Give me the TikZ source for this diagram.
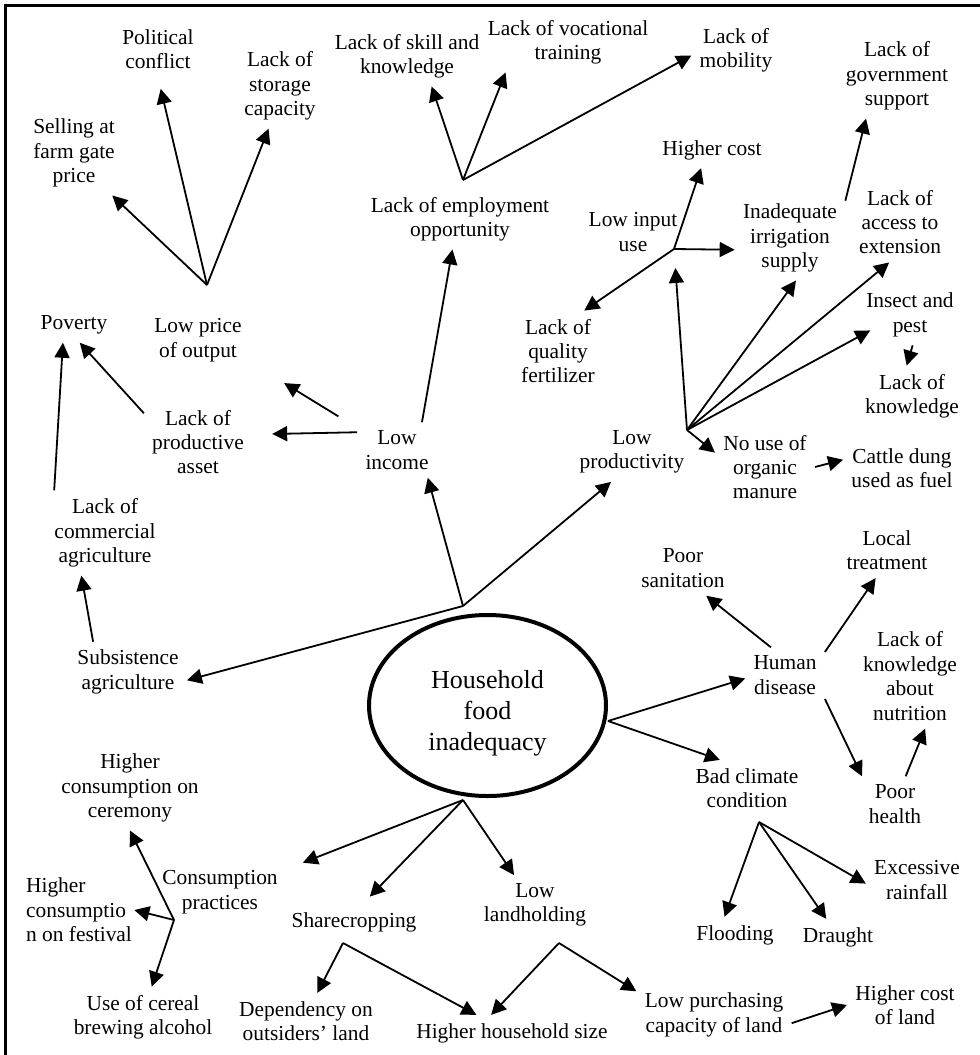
\documentclass[tikz,border=0pt]{standalone}
\usepackage{fontspec}
\setmainfont{Liberation Serif}
\usetikzlibrary{arrows.meta,shapes.geometric}

\begin{document}
\begin{tikzpicture}[
  x=0.5pt, y=-0.5pt,
  >={Triangle[length=7.5pt,width=7.5pt]},
  txt/.style={align=center, inner sep=4pt, font=\fontsize{10.7}{12.2}\selectfont},
  root/.style={ellipse, draw, line width=2pt, minimum width=118.5pt, minimum height=90.5pt, inner sep=0pt},
  link/.style={->, line width=0.9pt}
]
\useasboundingbox (0,0) rectangle (980,1055);
\draw[line width=1.3pt] (5.5,1055) |- (980,5.5);

\node[root, label={[txt, yshift=-4pt, font=\fontsize{13}{15.5}\selectfont]center:Household\\food\\inadequacy}] (hfi) at (487.5,705.5) {};

\node[txt] (pol) at (158,49) {Political\\conflict};
\node[txt] (stor) at (280,86) {Lack of\\storage\\capacity};
\node[txt] (sell) at (74,153) {Selling at\\farm gate\\price};
\node[txt] (pov) at (74,325) {Poverty};
\node[txt] (lpo) at (198,340) {Low price\\of output};
\node[txt] (skill) at (407,56) {Lack of skill and\\knowledge};
\node[txt] (voc) at (568,42) {Lack of vocational\\training};
\node[txt] (mob) at (736,50) {Lack of\\mobility};
\node[txt] (emp) at (460,219) {Lack of employment\\opportunity};
\node[txt] (hcost) at (712,150) {Higher cost};
\node[txt] (gov) at (897,76) {Lack of\\government\\support};
\node[txt] (input) at (633,232) {Low input\\use};
\node[txt] (irr) at (790,238) {Inadequate\\irrigation\\supply};
\node[txt] (ext) at (900,222) {Lack of\\access to\\extension};
\node[txt] (fert) at (558,351) {Lack of\\quality\\fertilizer};
\node[txt] (insect) at (910,315) {Insect and\\pest};
\node[txt] (lknow) at (912,396) {Lack of\\knowledge};
\node[txt] (asset) at (198,442) {Lack of\\productive\\asset};
\node[txt] (inc) at (397,450) {Low\\income};
\node[txt] (prod) at (632,452) {Low\\productivity};
\node[txt] (org) at (765,467) {No use of\\organic\\manure};
\node[txt] (dung) at (902,468) {Cattle dung\\used as fuel};
\node[txt] (comm) at (105,533) {Lack of\\commercial\\agriculture};
\node[txt] (san) at (683,568) {Poor\\sanitation};
\node[txt] (local) at (887,550) {Local\\treatment};
\node[txt] (subs) at (128,672) {Subsistence\\agriculture};
\node[txt] (hum) at (785,675) {Human\\disease};
\node[txt] (nutr) at (910,676) {Lack of\\knowledge\\about\\nutrition};
\node[txt] (clim) at (747,788) {Bad climate\\condition};
\node[txt] (phealth) at (895,804) {Poor\\health};
\node[txt] (cer) at (130,788) {Higher\\consumption on\\ceremony};
\node[txt] (cons) at (220,892) {Consumption\\practices};
\node[txt, align=left, inner sep=1pt] (fest) at (79,910) {Higher\\consumptio\\n on festival};
\node[txt] (share) at (354,922) {Sharecropping};
\node[txt] (land) at (535,905) {Low\\landholding};
\node[txt] (flood) at (735,935) {Flooding};
\node[txt] (draught) at (838,937) {Draught};
\node[txt] (rain) at (917,880) {Excessive\\rainfall};
\node[txt] (cereal) at (143,1017) {Use of cereal\\brewing alcohol};
\node[txt] (dep) at (306,1021) {Dependency on\\outsiders' land};
\node[txt] (hsize) at (512,1033) {Higher household size};
\node[txt] (purch) at (714,1015) {Low purchasing\\capacity of land};
\node[txt] (hcland) at (905,1005) {Higher cost\\of land};

\coordinate (jlp) at (207,285);
\coordinate (jemp) at (463,180);
\coordinate (jin) at (674,249);
\coordinate (jprod) at (687,430);
\coordinate (jroot) at (463,606);
\coordinate (jright) at (608,721);
\coordinate (jbot) at (463,800);
\coordinate (jclim) at (759,822);
\coordinate (jshare) at (343,943);
\coordinate (jland) at (559,943);
\coordinate (jcons) at (174,920);

\draw[link] (jlp) -- (sell.-48);
\draw[link, shorten >=6pt] (jlp) -- (pol.south);
\draw[link] (jlp) -- (stor.-105);
\draw[link] (jemp) -- (skill.-51);
\draw[link] (jemp) -- (voc.-154);
\draw[link] (jemp) -- (mob.-173);
\draw[link] (inc.48) -- (emp.-104);
\draw[link, shorten <=11pt, shorten >=20pt] (inc.151) -- (lpo.-23);
\draw[link, shorten >=10pt] (inc.156) -- (asset.8);
\draw[link] (asset.152) -- (pov.-72);
\draw[link] (comm.140) -- (pov.-122);
\draw[link] (subs.139) -- (comm.-119);
\draw[link] (jroot) -- (subs.-8);
\draw[link] (jroot) -- (inc.-42);
\draw[link] (jroot) -- (prod.-125);
\draw[link, shorten >=9.5pt] (jprod) -- (jin);
\draw[link] (jin) -- (hcost.-121);
\draw[link] (jin) -- (irr.-168);
\draw[link] (jin) -- (fert.57);
\draw[link] (irr.34) -- (gov.-126);
\draw[link] (jprod) -- (irr.-82);
\draw[link] (jprod) -- (ext.-105);
\draw[link, shorten >=-7pt] (jprod) -- (insect.-157);
\draw[link] (insect.-85) -- (lknow.100);
\draw[link] (jprod) -- (org.164);
\draw[link] (org.east) -- (dung.172);
\draw[link] (jright) -- (hum.-175);
\draw[link] (jright) -- (clim.134);
\draw[link] (hum.117) -- (san.-50);
\draw[link] (hum.30) -- (local.-112);
\draw[link] (hum.-31) -- (phealth.140);
\draw[link] (phealth.69) -- (nutr.-74);
\draw[link] (jclim) -- (flood.120);
\draw[link] (jclim) -- (draught.123);
\draw[link] (jclim) -- (rain.-176);
\draw[link, shorten >=9pt] (jbot) -- (cons.19);
\draw[link, shorten >=5pt] (jbot) -- (share.64);
\draw[link] (jbot) -- (land.125);
\draw[link] (jshare) -- (dep.68);
\draw[link] (jshare) -- (hsize.153);
\draw[link] (jland) -- (hsize.139);
\draw[link] (jland) -- (purch.163);
\draw[link] (purch.-6) -- (hcland.west);
\draw[link] (jcons) -- (cer.south);
\draw[link] (jcons) -- (fest.east);
\draw[link] (jcons) -- (cereal.74);

\end{tikzpicture}
\end{document}
